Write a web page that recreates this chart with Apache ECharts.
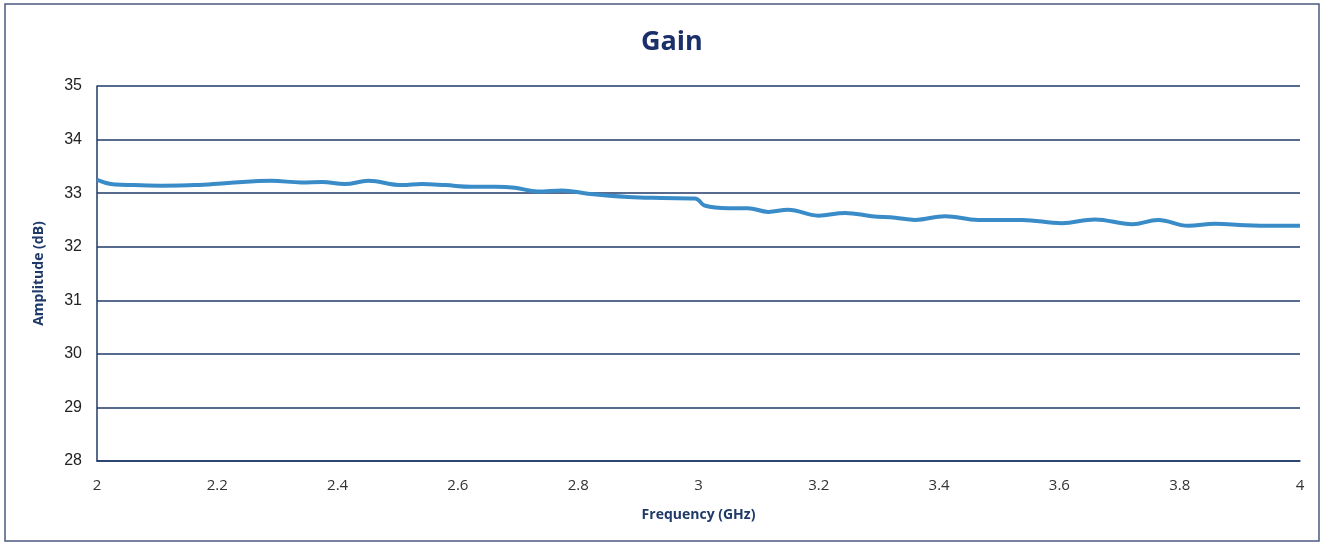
<!DOCTYPE html>
<html>
<head>
<meta charset="utf-8">
<script src="https://cdn.jsdelivr.net/npm/echarts@6/dist/echarts.min.js"></script>
<style>
html,body{margin:0;padding:0;background:#fff;}
#chart{width:1325px;height:547px;}
</style>
</head>
<body>
<div id="chart"></div>
<script>
const frequencyGHz = [2.000,2.015,2.030,2.060,2.108,2.163,2.218,2.290,2.340,2.374,2.412,2.451,2.507,2.540,2.579,2.623,2.662,2.695,2.733,2.773,2.816,2.883,2.939,2.994,3.000,3.010,3.049,3.082,3.116,3.149,3.199,3.244,3.288,3.327,3.360,3.410,3.465,3.538,3.604,3.659,3.721,3.764,3.814,3.859,3.909,3.960,4.000];
const gainDb = [33.25,33.19,33.16,33.15,33.14,33.15,33.19,33.23,33.20,33.21,33.17,33.23,33.15,33.17,33.15,33.12,33.12,33.10,33.03,33.05,32.99,32.93,32.91,32.90,32.87,32.77,32.72,32.72,32.65,32.69,32.58,32.63,32.57,32.54,32.50,32.57,32.50,32.50,32.44,32.51,32.42,32.50,32.39,32.43,32.40,32.39,32.39];
const xTicks = {min:2, max:4, interval:0.2};
const yTicks = {min:28, max:35, interval:1};

const navy = '#1F3A68';
const chart = echarts.init(document.getElementById('chart'));
chart.setOption({
  animation:false,
  backgroundColor:'#fff',
  title:{
    text:'Gain', left:636, top:24,
    textStyle:{fontFamily:'Open Sans', fontSize:27, fontWeight:'bold', color:'#1B2F6B'}
  },
  graphic:[{
    type:'rect', silent:true,
    shape:{x:5, y:4, width:1314, height:537},
    style:{fill:'none', stroke:'#4A5A80', lineWidth:1.5}
  }],
  grid:{left:97, right:25, top:86, bottom:86},
  xAxis:{
    type:'value', min:xTicks.min, max:xTicks.max, interval:xTicks.interval,
    name:'Frequency (GHz)', nameLocation:'middle', nameGap:47,
    nameTextStyle:{fontFamily:'Open Sans', fontSize:14, fontWeight:'bold', color:navy},
    axisLine:{show:true, lineStyle:{color:navy, width:1.5}},
    axisTick:{show:false},
    splitLine:{show:false},
    axisLabel:{fontFamily:'Open Sans', fontSize:15, color:'#333', margin:17}
  },
  yAxis:{
    type:'value', min:yTicks.min, max:yTicks.max, interval:yTicks.interval,
    name:'Amplitude (dB)', nameLocation:'middle', nameGap:51,
    nameTextStyle:{fontFamily:'Open Sans', fontSize:14, fontWeight:'bold', color:navy},
    axisLine:{show:true, lineStyle:{color:navy, width:1.5}},
    axisTick:{show:false},
    splitLine:{show:true, lineStyle:{color:navy, width:1.5}},
    axisLabel:{fontFamily:'Liberation Sans', fontSize:16, color:'#222', margin:15}
  },
  series:[{
    type:'line',
    data:frequencyGHz.map((f,i)=>[f, gainDb[i]]),
    showSymbol:false,
    smooth:0.4,
    lineStyle:{color:'#3A8CC8', width:4},
    itemStyle:{color:'#3A8CC8'}
  }]
});
</script>
</body>
</html>
